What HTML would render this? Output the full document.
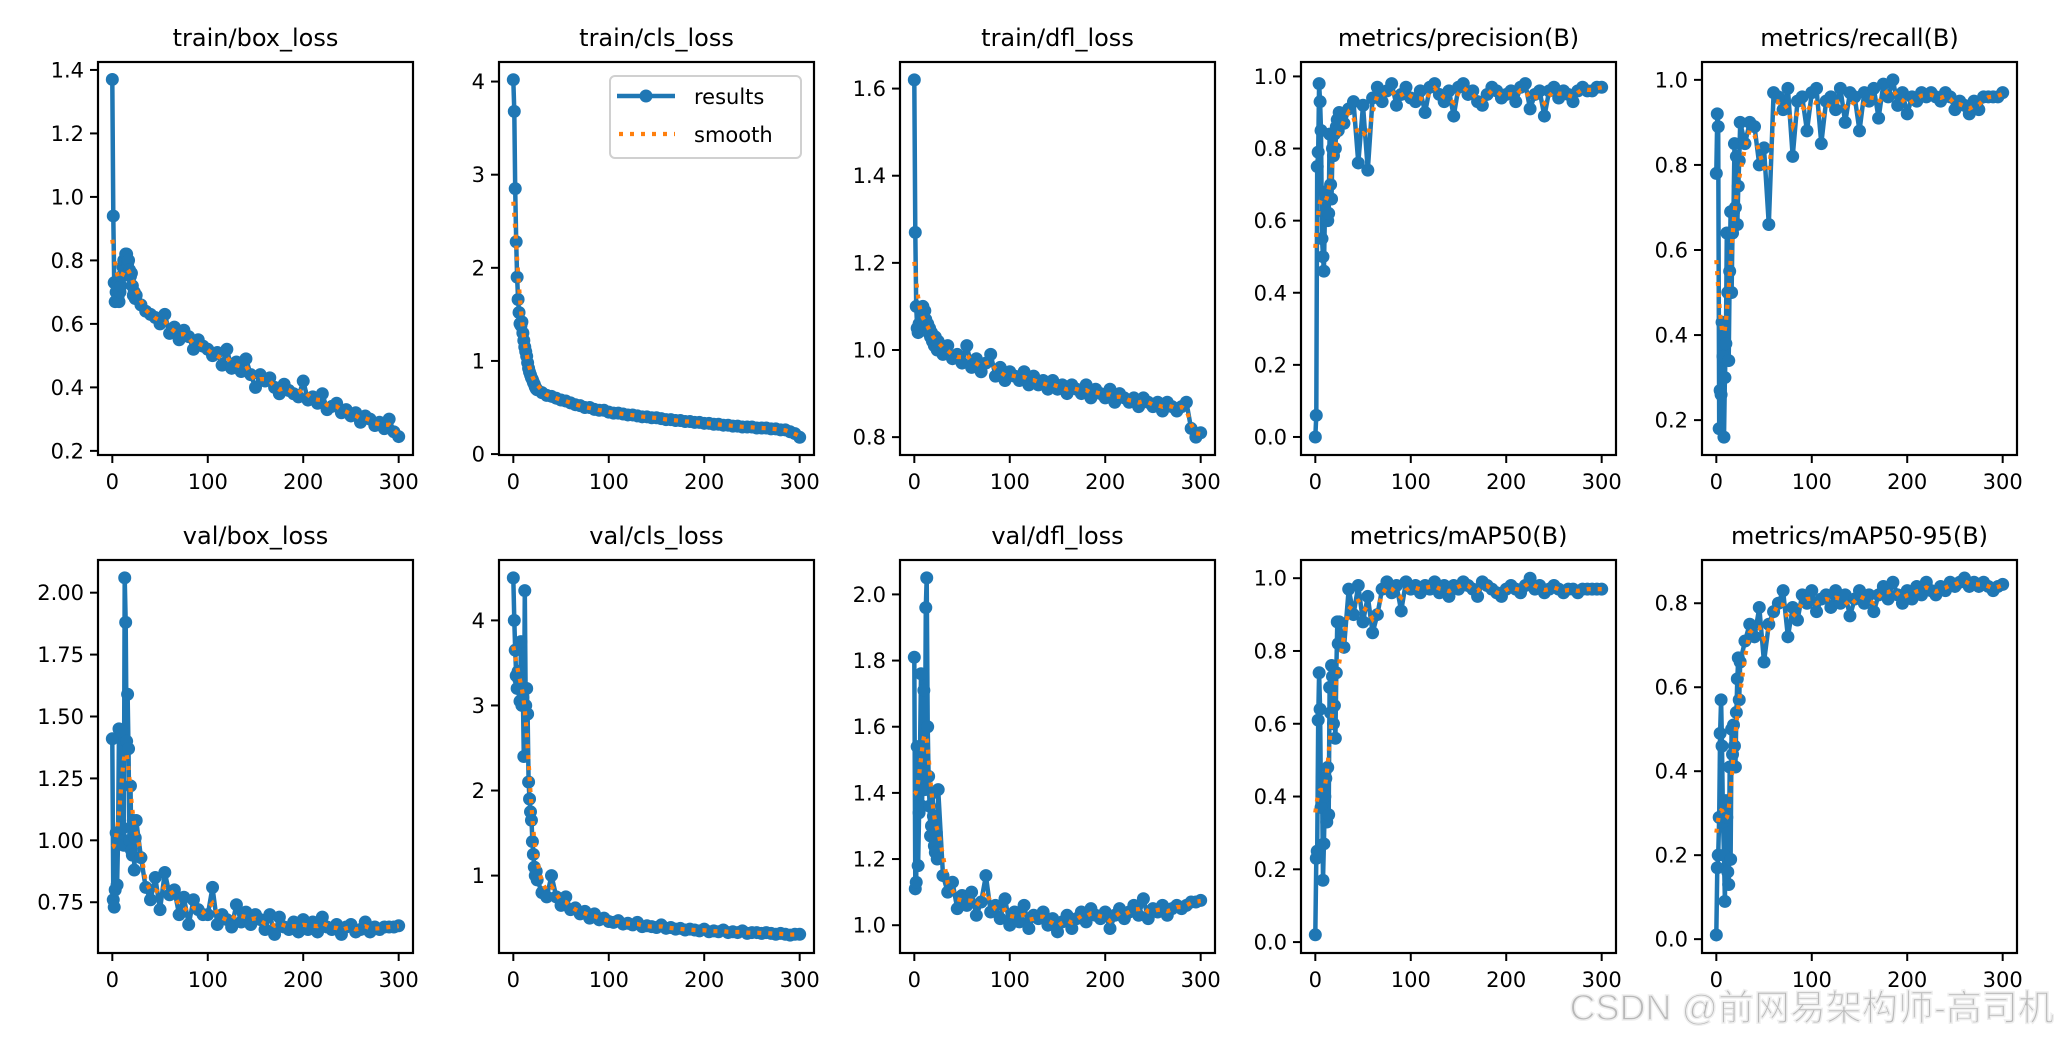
<!DOCTYPE html>
<html><head><meta charset="utf-8">
<style>
html,body{margin:0;padding:0;background:#fff;}
svg{display:block;}
text{font-family:"DejaVu Sans","Liberation Sans",sans-serif;fill:#000;}
</style></head>
<body>
<svg id="fig" width="2058" height="1040" viewBox="0 0 2058 1040"></svg>
<script>
const epochs=[0,1,2,3,4,5,6,7,8,9,10,11,12,13,14,15,16,17,18,19,20,21,22,23,24,25,30,35,40,45,50,55,60,65,70,75,80,85,90,95,100,105,110,115,120,125,130,135,140,145,150,155,160,165,170,175,180,185,190,195,200,205,210,215,220,225,230,235,240,245,250,255,260,265,270,275,280,285,290,295,300];
const trainBox=[1.37,0.94,0.73,0.67,0.70,0.72,0.68,0.67,0.70,0.72,0.75,0.78,0.80,0.77,0.82,0.82,0.79,0.80,0.77,0.75,0.76,0.72,0.69,0.70,0.68,0.69,0.66,0.64,0.63,0.62,0.60,0.63,0.57,0.59,0.55,0.58,0.56,0.52,0.55,0.53,0.52,0.50,0.51,0.47,0.52,0.46,0.48,0.45,0.49,0.44,0.40,0.44,0.42,0.43,0.40,0.38,0.41,0.39,0.38,0.37,0.42,0.36,0.37,0.35,0.38,0.33,0.34,0.35,0.32,0.33,0.31,0.32,0.29,0.31,0.30,0.28,0.29,0.27,0.30,0.26,0.245];
const trainCls=[4.02,3.68,2.85,2.28,1.90,1.66,1.52,1.40,1.38,1.42,1.30,1.22,1.15,1.10,1.05,0.98,0.92,0.88,0.85,0.82,0.80,0.77,0.75,0.72,0.70,0.69,0.66,0.63,0.62,0.60,0.58,0.57,0.55,0.53,0.52,0.50,0.50,0.48,0.47,0.47,0.45,0.44,0.44,0.43,0.42,0.42,0.41,0.40,0.40,0.39,0.39,0.38,0.37,0.37,0.36,0.36,0.35,0.35,0.34,0.34,0.33,0.33,0.32,0.32,0.31,0.31,0.30,0.30,0.29,0.29,0.29,0.28,0.28,0.28,0.27,0.27,0.26,0.26,0.24,0.22,0.18];
const trainDfl=[1.62,1.27,1.10,1.05,1.04,1.06,1.05,1.08,1.07,1.10,1.06,1.09,1.07,1.05,1.06,1.04,1.05,1.03,1.04,1.02,1.03,1.01,1.03,1.02,1.00,1.02,0.99,1.01,0.98,0.99,0.97,1.01,0.96,0.98,0.95,0.97,0.99,0.94,0.96,0.93,0.95,0.94,0.93,0.95,0.92,0.94,0.92,0.93,0.91,0.93,0.91,0.92,0.90,0.92,0.91,0.90,0.92,0.89,0.91,0.90,0.89,0.91,0.88,0.90,0.89,0.88,0.89,0.87,0.89,0.88,0.87,0.88,0.86,0.88,0.87,0.86,0.87,0.88,0.82,0.80,0.81];
const precision=[0.0,0.06,0.75,0.79,0.98,0.93,0.85,0.55,0.50,0.46,0.62,0.68,0.66,0.60,0.62,0.84,0.70,0.66,0.80,0.78,0.84,0.80,0.86,0.88,0.85,0.90,0.87,0.91,0.93,0.76,0.92,0.74,0.94,0.97,0.93,0.96,0.98,0.92,0.95,0.97,0.94,0.93,0.96,0.90,0.97,0.98,0.95,0.93,0.96,0.89,0.97,0.98,0.95,0.96,0.93,0.92,0.95,0.97,0.96,0.94,0.95,0.96,0.93,0.97,0.98,0.91,0.95,0.96,0.89,0.96,0.97,0.94,0.96,0.95,0.93,0.96,0.97,0.96,0.96,0.97,0.97];
const recall=[0.78,0.92,0.89,0.18,0.27,0.26,0.43,0.35,0.16,0.30,0.38,0.64,0.50,0.34,0.55,0.69,0.50,0.64,0.69,0.85,0.70,0.82,0.66,0.75,0.81,0.90,0.85,0.90,0.89,0.80,0.84,0.66,0.97,0.96,0.93,0.98,0.82,0.95,0.96,0.88,0.97,0.98,0.85,0.95,0.96,0.93,0.98,0.90,0.97,0.96,0.88,0.97,0.95,0.98,0.91,0.99,0.96,1.00,0.94,0.97,0.92,0.96,0.95,0.97,0.96,0.97,0.96,0.95,0.97,0.96,0.93,0.95,0.94,0.92,0.95,0.93,0.96,0.96,0.96,0.96,0.97];
const valBox=[1.41,0.76,0.73,0.80,1.03,0.82,0.99,1.45,1.02,1.00,1.44,1.05,0.98,2.06,1.88,1.40,1.59,1.37,1.00,1.22,0.96,0.94,1.08,0.88,1.01,1.08,0.93,0.81,0.76,0.85,0.72,0.87,0.78,0.80,0.70,0.77,0.66,0.76,0.72,0.70,0.70,0.81,0.66,0.70,0.68,0.65,0.74,0.67,0.71,0.66,0.70,0.68,0.64,0.70,0.62,0.69,0.65,0.64,0.67,0.63,0.68,0.64,0.67,0.63,0.69,0.65,0.64,0.66,0.62,0.65,0.66,0.63,0.64,0.67,0.63,0.65,0.64,0.65,0.65,0.65,0.655];
const valCls=[4.50,4.00,3.65,3.35,3.20,3.40,3.30,3.05,3.75,3.00,3.10,2.40,4.35,3.00,3.20,2.90,2.10,1.90,1.75,1.65,1.40,1.25,1.10,1.00,1.05,0.95,0.80,0.75,1.00,0.75,0.65,0.75,0.60,0.62,0.55,0.58,0.50,0.55,0.48,0.50,0.46,0.45,0.47,0.43,0.44,0.42,0.45,0.40,0.41,0.40,0.39,0.42,0.38,0.39,0.37,0.38,0.36,0.37,0.36,0.35,0.37,0.34,0.35,0.34,0.36,0.33,0.34,0.33,0.35,0.32,0.33,0.33,0.32,0.33,0.32,0.31,0.32,0.31,0.30,0.31,0.31];
const valDfl=[1.81,1.11,1.13,1.54,1.18,1.34,1.52,1.76,1.36,1.50,1.71,1.41,1.96,2.05,1.60,1.45,1.36,1.27,1.30,1.40,1.33,1.24,1.22,1.28,1.20,1.41,1.15,1.10,1.13,1.05,1.09,1.06,1.10,1.03,1.07,1.15,1.04,1.06,1.02,1.08,1.00,1.04,1.01,1.06,0.99,1.03,1.02,1.04,1.00,1.02,0.98,1.01,1.03,0.99,1.02,1.04,1.01,1.05,1.03,1.02,1.04,0.99,1.03,1.05,1.02,1.04,1.06,1.03,1.08,1.02,1.05,1.04,1.06,1.03,1.05,1.06,1.05,1.06,1.07,1.07,1.075];
const map50=[0.02,0.23,0.25,0.61,0.74,0.64,0.37,0.45,0.17,0.27,0.40,0.45,0.33,0.48,0.35,0.70,0.63,0.76,0.73,0.60,0.65,0.56,0.74,0.88,0.82,0.88,0.81,0.97,0.90,0.98,0.88,0.95,0.85,0.90,0.97,0.99,0.96,0.98,0.91,0.99,0.97,0.98,0.96,0.98,0.97,0.99,0.96,0.98,0.95,0.98,0.97,0.99,0.98,0.97,0.95,0.99,0.98,0.97,0.96,0.95,0.97,0.98,0.97,0.96,0.98,1.00,0.97,0.98,0.96,0.97,0.98,0.97,0.96,0.97,0.97,0.96,0.97,0.97,0.97,0.97,0.97];
const map5095=[0.01,0.17,0.20,0.29,0.49,0.57,0.46,0.28,0.20,0.09,0.33,0.29,0.16,0.13,0.41,0.19,0.50,0.44,0.51,0.46,0.41,0.54,0.62,0.67,0.57,0.66,0.71,0.75,0.72,0.79,0.66,0.75,0.78,0.80,0.83,0.72,0.79,0.76,0.82,0.80,0.83,0.78,0.81,0.82,0.79,0.83,0.80,0.82,0.77,0.81,0.83,0.80,0.82,0.78,0.82,0.84,0.81,0.85,0.82,0.80,0.83,0.81,0.84,0.82,0.85,0.83,0.82,0.84,0.83,0.85,0.84,0.85,0.86,0.84,0.85,0.84,0.85,0.84,0.83,0.84,0.845];
const titles=["train/box_loss","train/cls_loss","train/dfl_loss","metrics/precision(B)","metrics/recall(B)","val/box_loss","val/cls_loss","val/dfl_loss","metrics/mAP50(B)","metrics/mAP50-95(B)"];
const series=[trainBox,trainCls,trainDfl,precision,recall,valBox,valCls,valDfl,map50,map5095];
const yLims=[[0.187,1.425],[-0.01,4.21],[0.759,1.661],[-0.05,1.04],[0.118,1.042],[0.545,2.132],[0.09,4.71],[0.916,2.104],[-0.03,1.05],[-0.033,0.903]];
const yTicks=[["0.2","0.4","0.6","0.8","1.0","1.2","1.4"],["0","1","2","3","4"],["0.8","1.0","1.2","1.4","1.6"],["0.0","0.2","0.4","0.6","0.8","1.0"],["0.2","0.4","0.6","0.8","1.0"],["0.75","1.00","1.25","1.50","1.75","2.00"],["1","2","3","4"],["1.0","1.2","1.4","1.6","1.8","2.0"],["0.0","0.2","0.4","0.6","0.8","1.0"],["0.0","0.2","0.4","0.6","0.8"]];
const xTicks=["0","100","200","300"];
const xLim=[-15,315];

const NS="http://www.w3.org/2000/svg";
const svg=document.getElementById('fig');
function mk(tag,attrs,parent){const e=document.createElementNS(NS,tag);for(const k in attrs)e.setAttribute(k,attrs[k]);(parent||svg).appendChild(e);return e;}
const W=315,H=393,colX=[98,499,900,1301,1702],rowY=[62,560];
const BLUE="#1f77b4",ORANGE="#ff7f0e";

function smoothOf(vals){
  const out=[];
  for(let i=0;i<vals.length;i++){
    let s=0,w=0;
    for(let j=0;j<vals.length;j++){const d=epochs[j]-epochs[i];const ww=Math.exp(-d*d/(2*16));s+=ww*vals[j];w+=ww;}
    out.push(s/w);
  }
  return out;
}

for(let p=0;p<10;p++){
  const L=colX[p%5],T=rowY[Math.floor(p/5)];
  const [y0,y1]=yLims[p];
  const sx=v=>L+(v-xLim[0])/(xLim[1]-xLim[0])*W;
  const sy=v=>T+H-(v-y0)/(y1-y0)*H;
  const g=mk('g',{});
  
  
  const t=mk('text',{x:L+W/2,y:T-16,'font-size':24,'text-anchor':'middle'},g);
  t.textContent=titles[p];
  
  
  const cp=mk('clipPath',{id:'c'+p},g);mk('rect',{x:L,y:T,width:W,height:H},cp);
  const vals=series[p];
  const n=Math.min(vals.length,epochs.length);
  let d='';
  for(let i=0;i<n;i++)d+=(i?'L':'M')+sx(epochs[i]).toFixed(1)+' '+sy(vals[i]).toFixed(1);
  const dg=mk('g',{'clip-path':'url(#c'+p+')'},g);
  const ln=mk('path',{d:d,fill:'none',stroke:BLUE,'stroke-width':4.5,'stroke-linejoin':'round'},dg);
  
  
  for(let i=0;i<n;i++){
    const c=mk('circle',{cx:sx(epochs[i]),cy:sy(vals[i]),r:6.5,fill:BLUE},dg);
    
    
  }
  const sm=smoothOf(vals.slice(0,n));
  let d2='';
  for(let i=0;i<n;i++)d2+=(i?'L':'M')+sx(epochs[i]).toFixed(1)+' '+sy(sm[i]).toFixed(1);
  const sl=mk('path',{d:d2,fill:'none',stroke:ORANGE,'stroke-width':4.2,'stroke-dasharray':'4 7'},dg);
  
  
  mk('rect',{x:L,y:T,width:W,height:H,fill:'none',stroke:'#000','stroke-width':2.2},g);
  for(const tk of yTicks[p]){
    const v=parseFloat(tk),y=sy(v);
    mk('line',{x1:L-8,x2:L,y1:y,y2:y,stroke:'#000','stroke-width':2},g);
    const tt=mk('text',{x:L-14,y:y+7.5,'font-size':21,'text-anchor':'end'},g);
    tt.textContent=tk;
    
    
  }
  for(const tk of xTicks){
    const x=sx(parseFloat(tk));
    mk('line',{x1:x,x2:x,y1:T+H,y2:T+H+8,stroke:'#000','stroke-width':2},g);
    const tt=mk('text',{x:x,y:T+H+34,'font-size':21,'text-anchor':'middle'},g);
    tt.textContent=tk;
    
    
  }
}
const lg=mk('g',{});


mk('rect',{x:610,y:76,width:191,height:82,rx:5,fill:'#fff','fill-opacity':0.8,stroke:'#d0d0d0','stroke-width':2},lg);
mk('line',{x1:617,x2:675,y1:96,y2:96,stroke:BLUE,'stroke-width':4.5},lg);
mk('circle',{cx:646,cy:96,r:6.5,fill:BLUE},lg);
const lt1=mk('text',{x:694,y:104,'font-size':21},lg);lt1.textContent='results';


mk('line',{x1:619,x2:675,y1:134,y2:134,stroke:ORANGE,'stroke-width':4.2,'stroke-dasharray':'4 7'},lg);
const lt2=mk('text',{x:694,y:142,'font-size':21},lg);lt2.textContent='smooth';


const wm=mk('text',{x:2054,y:1020,'font-size':36,'text-anchor':'end',stroke:'#eeeeee','stroke-width':1.5,style:'fill:#b8b8b8;font-family:"Liberation Sans","Noto Sans CJK SC",sans-serif'});
wm.textContent='CSDN @前网易架构师-高司机';


</script>
</body></html>
